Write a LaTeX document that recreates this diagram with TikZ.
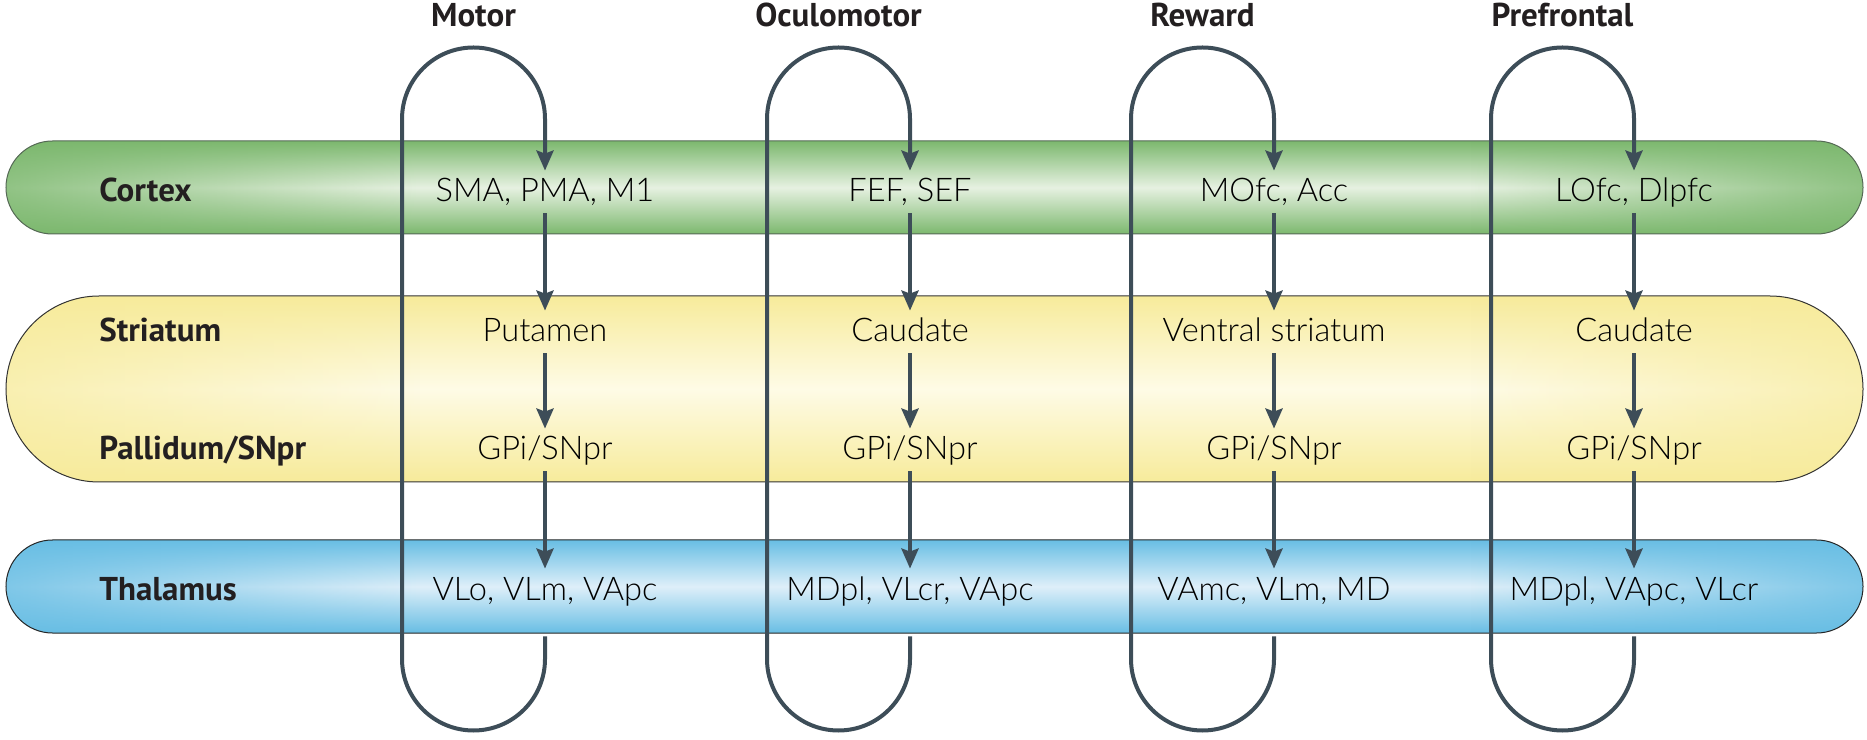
\documentclass[tikz,border=0pt]{standalone}
\usepackage{fontspec}
\setmainfont{PT Sans}
\IfFontExistsTF{Lato Light}{\newfontfamily\arealight{Lato Light}}{\newfontfamily\arealight{PT Sans}}
\usetikzlibrary{arrows.meta,fadings}

\definecolor{loopgrey}{RGB}{61,77,88}
\definecolor{ctxgreen}{RGB}{124,184,110}
\definecolor{ctxlight}{RGB}{230,241,225}
\definecolor{ctxline}{RGB}{85,105,85}
\definecolor{stryellow}{RGB}{247,235,155}
\definecolor{strlight}{RGB}{254,251,230}
\definecolor{thalblue}{RGB}{104,190,228}
\definecolor{thallight}{RGB}{222,239,249}
\definecolor{inkblack}{RGB}{35,31,32}

\begin{document}
\begin{tikzpicture}[x=0.5pt, y=0.5pt,
  looptitle/.style={font=\fontsize{16.5}{20}\selectfont\bfseries, text=inkblack, anchor=base, inner sep=0pt},
  bandlabel/.style={font=\fontsize{16.5}{20}\selectfont\bfseries, text=inkblack, anchor=base west, inner sep=0pt},
  area/.style={font=\arealight\fontsize{16.3}{20}\selectfont, text=black, anchor=base, text height=12pt, text depth=2pt, inner xsep=2pt, inner ysep=3.5pt},
  flow/.style={draw=loopgrey, line width=2pt, -{Stealth[length=10pt, width=8.5pt, inset=1.5pt]}},
  bandline/.style={line width=0.5pt}]
\useasboundingbox (0,0) rectangle (1867,739);
% cortex band
\shade[top color=ctxgreen, bottom color=ctxgreen, middle color=ctxlight, rounded corners=23.25pt] (6,505) rectangle (1863,598);
\begin{scope}
\clip[rounded corners=23.25pt] (6,505) rectangle (1863,598);
\fill[ctxgreen, path fading=east, fill opacity=0.8] (6,505) rectangle (420,598);
\fill[ctxgreen, path fading=west, fill opacity=0.8] (1470,505) rectangle (1863,598);
\end{scope}
\draw[bandline, ctxline, rounded corners=23.25pt] (6,505) rectangle (1863,598);
% striatum / pallidum band
\shade[top color=stryellow, bottom color=stryellow, middle color=strlight, rounded corners=46.5pt] (6,257) rectangle (1863,443);
\begin{scope}
\clip[rounded corners=46.5pt] (6,257) rectangle (1863,443);
\fill[stryellow, path fading=east, fill opacity=0.7] (6,257) rectangle (420,443);
\fill[stryellow, path fading=west, fill opacity=0.7] (1470,257) rectangle (1863,443);
\end{scope}
\draw[bandline, black!80, rounded corners=46.5pt] (6,257) rectangle (1863,443);
% thalamus band
\shade[top color=thalblue, bottom color=thalblue, middle color=thallight, rounded corners=23.25pt] (6,106) rectangle (1863,199);
\begin{scope}
\clip[rounded corners=23.25pt] (6,106) rectangle (1863,199);
\fill[thalblue, path fading=east, fill opacity=0.8] (6,106) rectangle (420,199);
\fill[thalblue, path fading=west, fill opacity=0.8] (1470,106) rectangle (1863,199);
\end{scope}
\draw[bandline, black!85, rounded corners=23.25pt] (6,106) rectangle (1863,199);

% loop titles
\node[looptitle] at (473.5,712) (tmot) {Motor};
\node[looptitle] at (838.5,712) (tocu) {Oculomotor};
\node[looptitle] at (1202.5,712) (trew) {Reward};
\node[looptitle] at (1562.5,712) (tpre) {Prefrontal};
% band labels
\node[bandlabel] at (99,537) (lctx) {Cortex};
\node[bandlabel] at (99,397) (lstr) {Striatum};
\node[bandlabel] at (99,279) (lpal) {Pallidum/SNpr};
\node[bandlabel] at (99,139) (lthal) {Thalamus};
% motor
\node[area] at (545,537) (mctx) {SMA, PMA, M1};
\node[area] at (545,397) (mstr) {Putamen};
\node[area] at (545,279) (mpal) {GPi/SNpr};
\node[area] at (545,139) (mthal) {VLo, VLm, VApc};
% oculomotor
\node[area] at (910,537) (octx) {FEF, SEF};
\node[area] at (910,397) (ostr) {Caudate};
\node[area] at (910,279) (opal) {GPi/SNpr};
\node[area] at (910,139) (othal) {MDpl, VLcr, VApc};
% reward
\node[area] at (1274,537) (rctx) {MOfc, Acc};
\node[area] at (1274,397) (rstr) {Ventral striatum};
\node[area] at (1274,279) (rpal) {GPi/SNpr};
\node[area] at (1274,139) (rthal) {VAmc, VLm, MD};
% prefrontal
\node[area] at (1634,537) (pctx) {LOfc, Dlpfc};
\node[area] at (1634,397) (pstr) {Caudate};
\node[area] at (1634,279) (ppal) {GPi/SNpr};
\node[area] at (1634,139) (pthal) {MDpl, VApc, VLcr};

% loop corners
\coordinate (mbot) at (545,80);
\coordinate (mtop) at (402,620);
\coordinate (obot) at (910,80);
\coordinate (otop) at (767,620);
\coordinate (rbot) at (1274,80);
\coordinate (rtop) at (1131,620);
\coordinate (pbot) at (1634,80);
\coordinate (ptop) at (1491,620);

\draw[flow] (mctx) -- (mstr);
\draw[flow] (mstr) -- (mpal);
\draw[flow] (mpal) -- (mthal);
\draw[flow, shorten <=12.5pt] (mthal) -- (mbot) arc[start angle=0, end angle=-180, radius=71.5] -- (mtop) arc[start angle=180, end angle=0, radius=71.5] -- (mctx);
\draw[flow] (octx) -- (ostr);
\draw[flow] (ostr) -- (opal);
\draw[flow] (opal) -- (othal);
\draw[flow, shorten <=12.5pt] (othal) -- (obot) arc[start angle=0, end angle=-180, radius=71.5] -- (otop) arc[start angle=180, end angle=0, radius=71.5] -- (octx);
\draw[flow] (rctx) -- (rstr);
\draw[flow] (rstr) -- (rpal);
\draw[flow] (rpal) -- (rthal);
\draw[flow, shorten <=12.5pt] (rthal) -- (rbot) arc[start angle=0, end angle=-180, radius=71.5] -- (rtop) arc[start angle=180, end angle=0, radius=71.5] -- (rctx);
\draw[flow] (pctx) -- (pstr);
\draw[flow] (pstr) -- (ppal);
\draw[flow] (ppal) -- (pthal);
\draw[flow, shorten <=12.5pt] (pthal) -- (pbot) arc[start angle=0, end angle=-180, radius=71.5] -- (ptop) arc[start angle=180, end angle=0, radius=71.5] -- (pctx);
\end{tikzpicture}
\end{document}
